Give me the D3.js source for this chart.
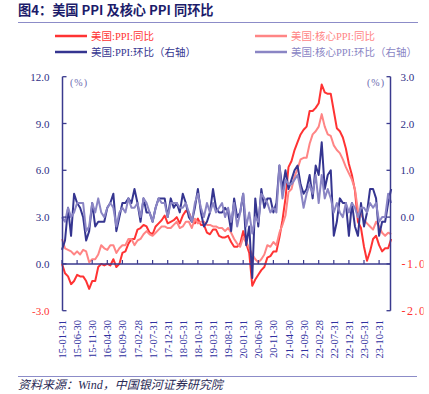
<!DOCTYPE html>
<html><head><meta charset="utf-8">
<script src="https://cdn.jsdelivr.net/npm/d3@7"></script>
<style>
html,body{margin:0;padding:0;background:#fff;}
svg{display:block;}
text{font-family:"Liberation Serif","Noto Sans CJK SC",serif;}
</style></head>
<body>
<svg id="c" width="429" height="394"></svg>
<script>
// ---- data (monthly, 2015-01 .. 2024-02) ----
const ppiYoY = [
  0.0,-0.6,-0.8,-1.3,-1.1,-0.7,-0.8,-0.8,-1.1,-1.6,-1.1,-1.1,
  -0.2,0.0,-0.1,0.0,-0.1,0.3,-0.2,0.0,0.7,0.8,1.3,1.6,
  1.6,2.2,2.3,2.5,2.4,2.0,1.9,2.4,2.6,2.8,3.1,2.6,
  2.7,2.8,3.0,2.6,3.1,3.4,3.3,2.8,2.6,2.9,2.5,2.5,
  2.0,1.9,2.2,2.2,1.8,1.7,1.7,1.8,1.4,1.1,1.1,1.3,
  2.1,1.3,0.7,-1.4,-1.0,-0.7,-0.4,-0.2,0.4,0.5,0.8,0.8,
  1.7,2.8,4.2,6.2,6.6,7.3,7.8,8.3,8.6,8.8,9.8,9.8,
  10.0,10.3,11.5,11.0,10.9,10.9,9.8,8.7,8.5,8.1,7.4,6.4,
  5.7,4.7,2.7,2.3,1.1,0.2,0.8,1.6,1.8,1.2,0.8,1.0,
  1.0,1.6];
const corePpiYoY = [
  1.6,1.0,0.9,0.8,0.6,0.8,0.6,0.9,0.8,0.1,0.3,0.3,
  0.6,1.2,1.0,0.9,1.2,1.2,0.7,1.0,1.2,1.2,1.6,1.6,
  1.2,1.5,1.6,1.9,2.1,1.9,1.8,2.0,2.2,2.4,2.4,2.3,
  2.3,2.5,2.7,2.3,2.4,2.7,2.7,2.3,2.9,2.6,2.7,2.7,
  2.5,2.5,2.4,2.4,2.3,2.3,2.1,2.3,2.0,1.6,1.3,1.1,
  1.7,1.4,1.0,0.6,0.3,0.1,0.3,0.6,1.2,1.1,1.4,1.2,
  2.0,2.5,3.1,4.6,4.8,5.6,6.1,6.7,6.8,6.8,7.7,8.3,
  8.5,8.8,9.6,8.8,8.3,8.2,7.6,7.3,7.1,6.7,6.2,5.8,
  5.4,4.8,3.4,3.2,2.8,2.6,2.4,2.2,2.7,2.4,2.0,1.8,
  2.0,1.9];
const ppiMoM = [
  -0.7,-0.5,0.2,-0.4,0.5,0.3,0.2,0.0,-0.5,-0.3,0.3,-0.2,
  -0.1,-0.1,-0.1,0.2,0.3,0.5,-0.3,0.0,0.3,0.3,0.4,0.3,
  0.6,0.3,-0.1,0.4,0.1,0.1,-0.1,0.2,0.4,0.4,0.4,0.0,
  0.4,0.2,0.3,0.1,0.5,0.3,0.0,-0.1,0.2,0.6,0.1,-0.2,
  -0.1,0.1,0.6,0.2,0.1,0.1,0.2,0.1,-0.3,0.4,0.0,0.1,
  0.5,-0.6,-0.2,-1.3,0.4,-0.2,0.6,0.2,0.4,0.4,0.1,0.3,
  1.1,0.6,1.0,0.6,0.8,1.0,1.1,0.7,0.5,0.6,0.9,0.4,
  1.1,0.9,1.6,0.6,0.9,1.0,-0.4,-0.1,0.4,0.3,0.3,-0.4,
  0.3,-0.2,-0.4,0.3,-0.2,0.1,0.6,0.6,0.4,-0.4,-0.1,-0.1,
  0.3,0.6];
const corePpiMoM = [
  0.0,-0.1,0.2,0.0,0.1,0.3,0.3,0.3,-0.3,-0.2,0.3,0.1,
  0.4,0.1,0.0,0.2,0.3,0.2,-0.2,0.1,0.2,0.1,0.4,0.2,
  0.2,0.3,0.0,0.4,0.3,0.1,-0.1,0.2,0.4,0.3,0.3,0.0,
  0.3,0.3,0.3,0.2,0.2,0.3,0.1,-0.1,0.3,0.5,0.2,0.0,
  0.3,0.1,0.3,0.1,0.2,0.3,0.0,0.2,-0.1,0.3,-0.2,0.1,
  0.5,-0.2,0.1,-0.35,0.0,-0.1,0.5,0.4,0.3,0.1,0.2,0.1,
  1.1,0.4,0.8,0.7,0.7,0.8,0.9,0.6,0.2,0.5,0.7,0.5,
  0.9,0.3,0.9,0.4,0.6,0.4,0.1,0.3,0.1,0.0,0.3,0.1,
  0.3,0.2,0.0,0.2,0.2,0.1,0.3,0.2,0.3,-0.1,0.0,0.0,
  0.5,0.3];
const xTickLabels = ["15-01-31","15-06-30","15-11-30","16-04-30","16-09-30","17-02-28","17-07-31",
  "17-12-31","18-05-31","18-10-31","19-03-31","19-08-31","20-01-31","20-06-30","20-11-30",
  "21-04-30","21-09-30","22-02-28","22-07-31","22-12-31","23-05-31","23-10-31"];
const leftTicks = [12,9,6,3,0,-3];
const rightTicks = [3,2,1,0,-1,-2];
const seriesNames = ["美国:PPI:同比","美国:核心PPI:同比","美国:PPI:环比（右轴）","美国:核心PPI:环比（右轴）"];
const seriesColors = ["#FF3333","#FF8585","#353590","#8A85C4"];

// ---- drawing ----
const svg = d3.select("#c");
const axisColor = "#3A3A8E", navy = "#2E2E86", red = "#FF3333";
const x = d3.scaleLinear().domain([0,105]).range([62,379.1]);
const yL = d3.scaleLinear().domain([-3,12]).range([310.7,76.7]);
const yR = d3.scaleLinear().domain([-2,3]).range([310.7,76.7]);

svg.append("defs").append("clipPath").attr("id","rclip")
  .append("rect").attr("x",0).attr("y",0).attr("width",423.5).attr("height",394);

// title
svg.append("text").attr("x",18).attr("y",14.5).attr("font-size",13.2).attr("font-weight","bold")
  .attr("fill","#1C1C6A").style("font-family","'Noto Sans CJK SC','Liberation Serif',sans-serif")
  .text("图4：美国 PPI 及核心 PPI 同环比");
svg.append("line").attr("x1",18).attr("x2",418).attr("y1",22.5).attr("y2",22.5)
  .attr("stroke","#8C8CC8").attr("stroke-width",1);

// legend
const legPos = [[55,36],[255,36],[55,52],[255,52]];
seriesNames.forEach((n,i)=>{
  const [lx,ly] = legPos[i];
  svg.append("line").attr("x1",lx).attr("x2",lx+32).attr("y1",ly).attr("y2",ly)
    .attr("stroke",seriesColors[i]).attr("stroke-width",2.5);
  svg.append("text").attr("x",lx+36).attr("y",ly+4).attr("font-size",10.5)
    .attr("fill",seriesColors[i]).text(n);
});

// lines
const mk = (ys) => d3.line().x((d,i)=>x(i)).y(d=>ys(d));
const plots = [[ppiYoY,yL],[corePpiYoY,yL],[ppiMoM,yR],[corePpiMoM,yR]];
plots.forEach(([arr,sc],i)=>{
  svg.append("path").datum(arr).attr("d",mk(sc)).attr("fill","none")
    .attr("stroke",seriesColors[i]).attr("stroke-width",2).attr("stroke-linejoin","round");
});

// left axis
const gL = svg.append("g").attr("transform","translate(62.5,0)");
gL.append("line").attr("y1",yL(12)).attr("y2",yL(-3)).attr("stroke",axisColor).attr("stroke-width",1.5);
leftTicks.forEach(t=>{
  gL.append("line").attr("x1",0).attr("x2",4).attr("y1",yL(t)).attr("y2",yL(t)).attr("stroke",axisColor).attr("stroke-width",1.3);
  gL.append("text").attr("x",-13).attr("y",yL(t)+4).attr("text-anchor","end").attr("font-size",11)
    .attr("fill", t<0?red:navy).text(d3.format(".1f")(t).replace("−","-"));
});
// right axis
const gR = svg.append("g").attr("transform","translate(390.5,0)");
gR.append("line").attr("y1",yR(3)).attr("y2",yR(-2)).attr("stroke",axisColor).attr("stroke-width",1.5);
const gRL = svg.append("g").attr("clip-path","url(#rclip)");
rightTicks.forEach(t=>{
  gR.append("line").attr("x1",0).attr("x2",-4).attr("y1",yR(t)).attr("y2",yR(t)).attr("stroke",axisColor).attr("stroke-width",1.3);
  const tx = gRL.append("text").attr("x",390.5 + (t<0?11:10)).attr("y",yR(t)+4).attr("text-anchor","start")
    .attr("font-size", t<0?12:11)
    .attr("fill", t<0?red:navy).text(d3.format(".1f")(t).replace("−","-"));
  if (t<0) tx.style("letter-spacing","1.5px");
});
// unit labels
svg.append("text").attr("x",70).attr("y",86).attr("font-size",10).attr("fill","#6A6AB0").text("(%)").style("letter-spacing","1px");
svg.append("text").attr("x",367).attr("y",86).attr("font-size",10).attr("fill","#6A6AB0").text("(%)").style("letter-spacing","1px");

// x axis
svg.append("line").attr("x1",62).attr("x2",390.5).attr("y1",yL(0)).attr("y2",yL(0)).attr("stroke",axisColor).attr("stroke-width",1.5);
xTickLabels.forEach((lab,k)=>{
  const xi = x(k*5);
  svg.append("line").attr("x1",xi).attr("x2",xi).attr("y1",yL(0)).attr("y2",yL(0)-4).attr("stroke",axisColor).attr("stroke-width",1.2);
  svg.append("text").attr("transform",`translate(${xi+4},320) rotate(-90)`).attr("text-anchor","end")
    .attr("font-size",10.5).attr("fill","#3030A0").text(lab);
});

// footer
svg.append("line").attr("x1",18).attr("x2",417).attr("y1",376.5).attr("y2",376.5).attr("stroke","#8C8CC8").attr("stroke-width",1);
svg.append("text").attr("x",18).attr("y",389).attr("font-size",12).attr("font-style","italic")
  .attr("fill","#2A2A55").text("资料来源：Wind，中国银河证券研究院");
</script>
</body></html>
